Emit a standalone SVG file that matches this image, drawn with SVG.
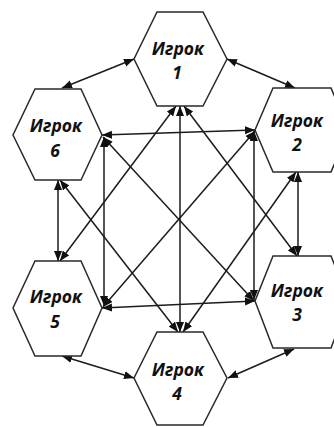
<svg xmlns="http://www.w3.org/2000/svg" width="334" height="427" viewBox="0 0 334 427">
  <defs>
    <marker id="tip" viewBox="0 0 10 8" refX="10" refY="4" markerWidth="10" markerHeight="8.5" markerUnits="userSpaceOnUse" orient="auto-start-reverse">
      <path d="M0,0 L10,4 L0,8 z" fill="#111"/>
    </marker>
    <style>
      .hex { fill: #fff; stroke: #2a2a2a; stroke-width: 1.5; stroke-linejoin: miter; }
      .lbl { font-family: "Open Sans", "Liberation Sans", sans-serif; font-weight: bold; font-style: italic; font-size: 17.5px; fill: #111; text-anchor: middle; }
      .link { fill: none; stroke: #1c1c1c; stroke-width: 1.5; marker-start: url(#tip); marker-end: url(#tip); }
    </style>
  </defs>
  <rect width="334" height="427" fill="#fff"/>

  <g id="connectors">
    <!-- ring -->
    <line class="link" x1="134" y1="59" x2="62" y2="88"/>
    <line class="link" x1="227" y1="59" x2="295" y2="88"/>
    <line class="link" x1="298" y1="172" x2="298" y2="256"/>
    <line class="link" x1="294" y1="349" x2="228" y2="378"/>
    <line class="link" x1="134" y1="378" x2="62" y2="356"/>
    <line class="link" x1="58" y1="180" x2="58" y2="261"/>
    <!-- inner links -->
    <line class="link" x1="180" y1="106" x2="180" y2="332"/>
    <line class="link" x1="102" y1="135" x2="255" y2="130"/>
    <line class="link" x1="102" y1="308" x2="255" y2="301"/>
    <line class="link" x1="104" y1="137" x2="104" y2="306"/>
    <line class="link" x1="254" y1="131" x2="254" y2="300"/>
    <line class="link" x1="176" y1="106" x2="60" y2="261"/>
    <line class="link" x1="184" y1="106" x2="297" y2="256"/>
    <line class="link" x1="103" y1="137" x2="254" y2="301"/>
    <line class="link" x1="255" y1="131" x2="103" y2="307"/>
    <line class="link" x1="60" y1="180" x2="178" y2="332"/>
    <line class="link" x1="296" y1="172" x2="183" y2="332"/>
  </g>

  <g id="player1">
    <polygon class="hex" points="157,12 203,12 227,59 203,106 157,106 134,59"/>
    <text class="lbl" x="178" y="55">Игрок</text>
    <text class="lbl" x="177" y="79">1</text>
  </g>
  <g id="player2">
    <polygon class="hex" points="273,88 331,88 349,130 331,172 273,172 255,130"/>
    <text class="lbl" x="297" y="127">Игрок</text>
    <text class="lbl" x="297" y="151">2</text>
  </g>
  <g id="player3">
    <polygon class="hex" points="273,256 331,256 349,301 331,348 273,348 255,301"/>
    <text class="lbl" x="297" y="297">Игрок</text>
    <text class="lbl" x="297" y="321">3</text>
  </g>
  <g id="player4">
    <polygon class="hex" points="157,332 203,332 227,378 203,425 157,425 134,378"/>
    <text class="lbl" x="178" y="376">Игрок</text>
    <text class="lbl" x="177" y="400">4</text>
  </g>
  <g id="player5">
    <polygon class="hex" points="35,261 81,261 102,308 81,356 35,356 13,308"/>
    <text class="lbl" x="56" y="303">Игрок</text>
    <text class="lbl" x="55" y="328">5</text>
  </g>
  <g id="player6">
    <polygon class="hex" points="35,89 81,89 102,135 81,180 35,180 13,135"/>
    <text class="lbl" x="56" y="132">Игрок</text>
    <text class="lbl" x="55" y="157">6</text>
  </g>
</svg>
